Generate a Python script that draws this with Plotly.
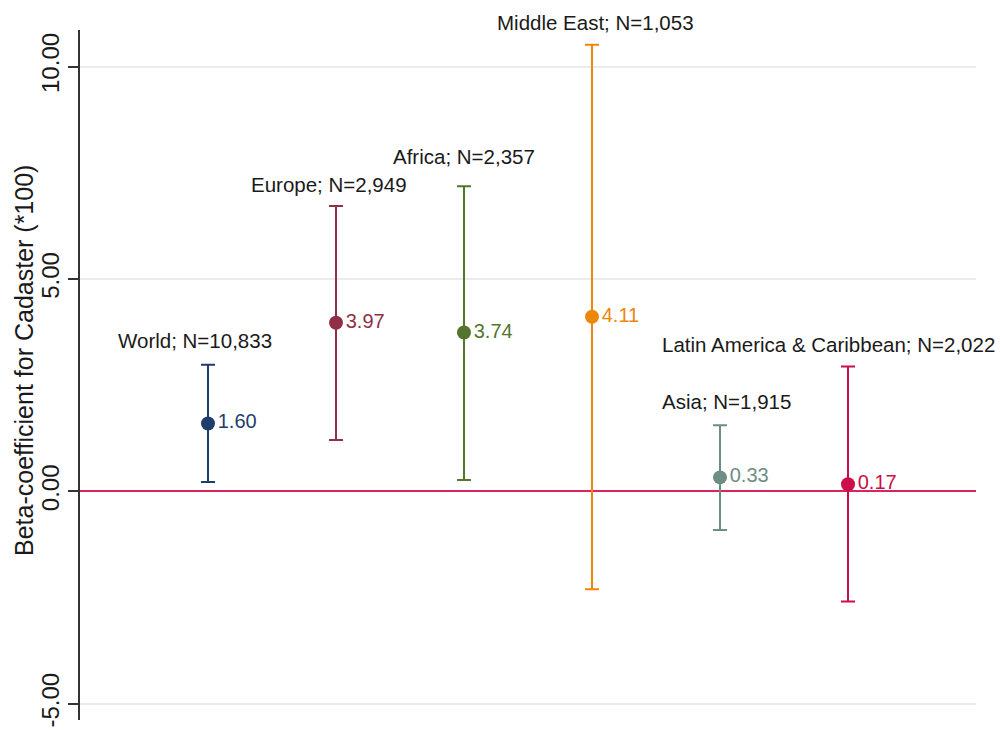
import plotly.graph_objects as go

# ---- data ----
regions = ["World", "Europe", "Africa", "Middle East", "Asia", "Latin America & Caribbean"]
n_obs = ["10,833", "2,949", "2,357", "1,053", "1,915", "2,022"]
beta = [1.60, 3.97, 3.74, 4.11, 0.33, 0.17]
ci_upper = [2.98, 6.72, 7.18, 10.51, 1.56, 2.94]
ci_lower = [0.22, 1.21, 0.27, -2.30, -0.91, -2.59]
y_ticks = [-5, 0, 5, 10]
y_title = "Beta-coefficient for Cadaster (*100)"

# ---- style ----
colors = ["#1f3d6b", "#8f3048", "#55752f", "#ec870c", "#6e8e84", "#cc0e4a"]
label_dx = [-13, -7, 0, 3, 6, -20]
label_dy = [24, 21, 30, 22, 24, 22]
FONT = "Liberation Sans, Arial, sans-serif"

fig = go.Figure()
for i, (reg, b, hi, lo) in enumerate(zip(regions, beta, ci_upper, ci_lower)):
    x = i + 1
    fig.add_trace(go.Scatter(
        x=[x], y=[b],
        mode="markers+text",
        marker=dict(size=14, color=colors[i], line=dict(width=0)),
        text=[f"{b:.2f}"],
        textposition="middle right",
        textfont=dict(family=FONT, size=20, color=colors[i]),
        error_y=dict(type="data", symmetric=False,
                     array=[hi - b], arrayminus=[b - lo],
                     color=colors[i], thickness=2, width=7),
        showlegend=False,
        cliponaxis=False,
    ))
    fig.add_annotation(
        x=x, y=hi, xref="x", yref="y",
        text=f"{reg}; N={n_obs[i]}",
        showarrow=False,
        xanchor="center", yanchor="middle",
        xshift=label_dx[i], yshift=label_dy[i],
        font=dict(family=FONT, size=20.5, color="#1a1a1a"),
    )

# y-axis title as rotated annotation
fig.add_annotation(
    x=0, y=(720 - 361) / 690, xref="paper", yref="paper",
    text=y_title, textangle=-90, showarrow=False,
    xanchor="center", yanchor="middle",
    xshift=-56,
    font=dict(family=FONT, size=25, color="#1a1a1a"),
)

fig.update_layout(
    width=1000, height=731,
    margin=dict(l=80, r=24, t=30, b=11),
    paper_bgcolor="white", plot_bgcolor="white",
    font=dict(family=FONT, color="#1a1a1a"),
    xaxis=dict(range=[0, 7], visible=False, showgrid=False, zeroline=False),
    yaxis=dict(
        range=[-5.38, 10.86],
        automargin=False,
        tickvals=y_ticks,
        ticktext=[f"{v:.2f}" for v in y_ticks],
        tickangle=-90,
        tickfont=dict(family=FONT, size=24, color="#1a1a1a"),
        ticks="outside", ticklen=10, tickwidth=1.5, tickcolor="#333333",
        showline=True, linecolor="#333333", linewidth=1.5,
        showgrid=True, gridcolor="#ebebeb", gridwidth=1.5,
        zeroline=True, zerolinecolor="#d8265c", zerolinewidth=2,
    ),
)

fig.write_html("out.html")
